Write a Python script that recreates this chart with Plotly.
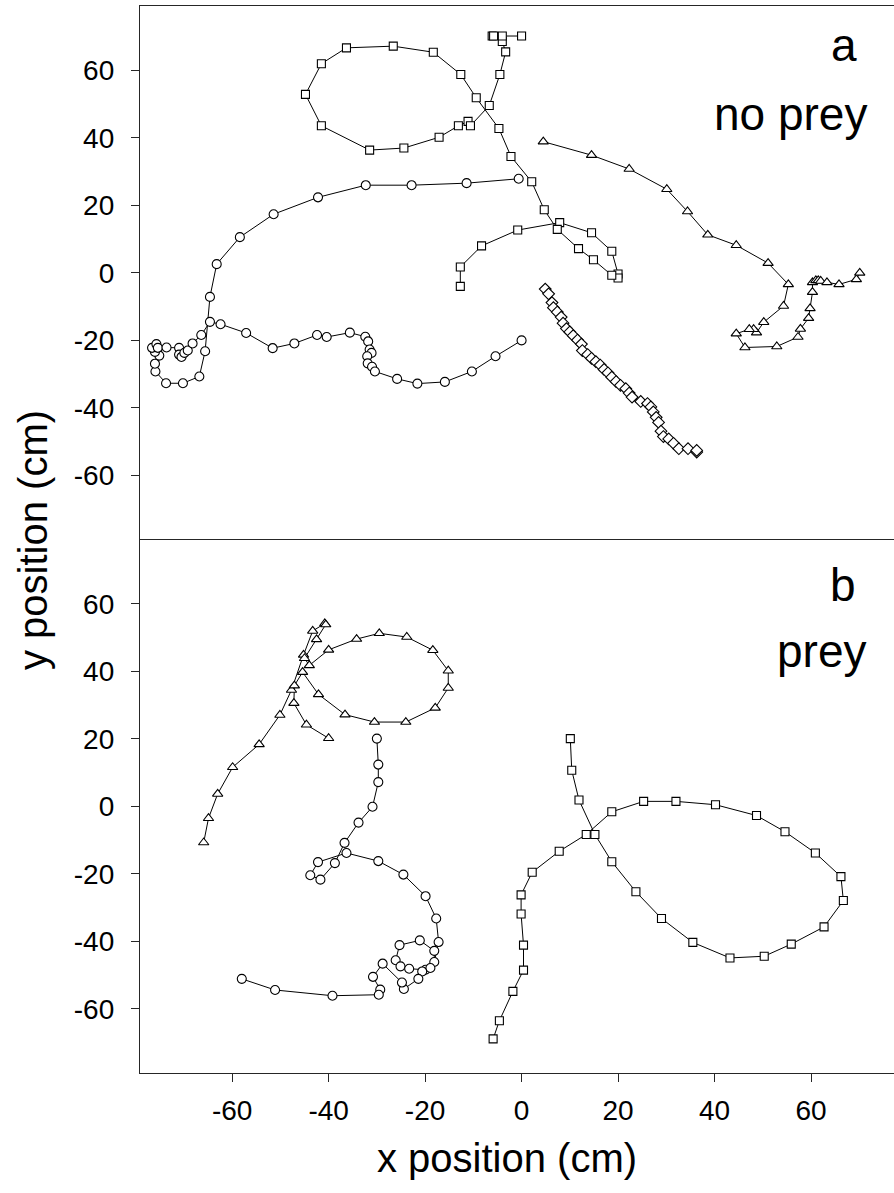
import plotly.graph_objects as go

# ---------------- data (cm) ----------------
# Panel a: no prey
a_sq_x = [-12.7, -12.7, -8.3, -0.8, 7.9, 14.5, 18.7, 20.0, 20.0, 18.7, 14.9, 11.8, 7.4, 4.7, 2.1, -2.2,
          -4.7, -9.4, -12.6, -18.3, -26.6, -36.3, -41.5, -44.8, -41.5, -31.5, -24.4, -17.1, -13.1,
          -11.1, -10.6, -6.7, -4.5, -3.3, -4.0, -4.0, -6.1, -5.8, 0.0]
a_sq_y = [-4.0, 1.75, 8.0, 12.7, 14.9, 11.9, 6.4, -0.3, -1.5, -0.7, 3.9, 7.2, 12.9, 18.7, 27.0, 34.5,
          42.8, 51.9, 58.8, 65.4, 67.2, 66.7, 62.0, 52.9, 43.6, 36.4, 37.0, 40.2, 43.6,
          44.9, 43.6, 49.6, 58.8, 65.5, 68.6, 70.2, 70.2, 70.2, 70.2]

a_tri_x = [4.5, 14.5, 22.3, 30.1, 34.4, 38.6, 44.5, 51.1, 55.3, 54.3, 50.2, 48.7, 48.1, 47.2, 44.5,
           46.3, 52.9, 57.3, 57.8, 59.5, 59.8, 60.3, 60.3, 61.0, 61.5, 62.0, 63.3, 65.8, 69.4, 70.1]
a_tri_y = [38.9, 34.9, 30.8, 24.8, 18.2, 11.3, 8.2, 2.9, -3.4, -9.8, -14.6, -17.7, -16.7, -16.7, -18.0,
           -22.1, -21.8, -19.0, -16.6, -13.4, -10.5, -5.7, -2.8, -2.2, -2.2, -2.4, -2.8, -3.4, -1.9, 0.0]

a_dia_x = [4.9, 5.6, 6.3, 6.6, 7.4, 8.2, 8.6, 9.3, 10.0, 10.7, 11.6, 12.4, 12.6, 13.7, 14.5, 15.4,
           16.3, 17.1, 17.9, 18.7, 19.6, 20.5, 21.6, 22.3, 22.9, 24.7, 26.1, 26.8, 27.3, 27.9, 28.4,
           28.9, 29.4, 30.5, 31.5, 32.6, 34.5, 36.3, 36.3]
a_dia_y = [-4.8, -6.2, -8.8, -10.3, -11.6, -13.1, -14.9, -16.5, -17.5, -18.6, -19.9, -21.1, -23.0,
           -24.2, -25.3, -26.3, -27.3, -28.6, -29.6, -30.9, -32.2, -33.3, -34.3, -35.6, -36.8, -38.1,
           -38.7, -39.7, -41.2, -42.8, -44.3, -46.9, -48.5, -49.2, -50.5, -52.1, -52.1, -53.1, -52.6]

a_cir_x = [-0.6, -11.4, -22.8, -32.3, -42.2, -51.4, -58.4, -63.2, -64.6, -65.6, -66.8, -70.2, -73.7,
           -75.9, -76.0, -75.1, -76.0, -76.6, -75.7, -75.4, -73.6, -71.0, -71.0, -70.5, -69.9, -69.2,
           -68.2, -66.4, -64.6, -62.4, -57.1, -51.6, -47.1, -42.4, -40.4, -35.6, -32.4, -31.8, -31.5,
           -31.1, -32.0, -31.9, -31.0, -30.4, -25.8, -21.6, -15.9, -10.3, -5.4, 0.0]
a_cir_y = [27.9, 26.6, 26.0, 26.0, 22.4, 17.4, 10.6, 2.6, -7.1, -23.2, -30.7, -32.7, -32.7,
           -29.2, -26.9, -24.5, -23.4, -22.2, -21.1, -22.2, -22.1, -22.2, -24.2, -24.9, -23.7, -23.0,
           -20.9, -18.4, -14.5, -15.2, -17.8, -22.3, -20.9, -18.4, -19.0, -17.7, -18.9, -20.3, -22.7,
           -23.7, -24.7, -26.8, -27.8, -29.2, -31.4, -32.8, -32.3, -29.2, -24.7, -20.0]

# Panel b: prey
b_tri_x = [-65.9, -64.9, -63.0, -59.9, -54.4, -50.1, -47.7, -45.2, -43.3, -40.8, -40.6, -42.5, -45.0,
           -44.0, -40.0, -34.2, -29.5, -23.8, -18.4, -15.2, -15.2, -17.9, -24.0, -30.5, -36.6, -42.1,
           -45.4, -47.1, -47.2, -44.6, -40.0]
b_tri_y = [-10.7, -3.5, 3.7, 11.6, 18.4, 27.1, 34.5, 44.9, 52.0, 54.2, 53.9, 49.5, 43.9,
           41.8, 46.4, 49.6, 51.3, 50.2, 46.3, 40.2, 35.1, 29.2, 25.0, 25.0, 27.2, 33.2,
           39.8, 35.8, 30.6, 24.2, 20.2]

b_cir_x = [-30.0, -29.7, -29.7, -30.9, -33.8, -36.7, -38.7, -41.7, -43.8, -42.2, -36.3, -29.7, -24.5,
           -19.9, -17.7, -17.2, -18.1, -18.1, -21.1, -25.3, -26.1, -25.1, -23.3, -19.9, -18.9, -20.6,
           -21.4, -24.4, -24.8, -28.8, -30.8, -29.3, -29.6, -39.2, -51.1, -58.0]
b_cir_y = [20.1, 12.4, 7.2, -0.1, -4.8, -10.8, -16.8, -21.7, -20.4, -16.5, -13.8, -16.2, -20.2,
           -26.6, -33.2, -40.2, -46.1, -42.8, -39.7, -41.1, -45.6, -47.4, -48.1, -48.4, -47.9, -48.9,
           -51.1, -54.1, -52.2, -46.6, -50.5, -54.3, -55.8, -56.1, -54.4, -51.1]

b_sq_x = [10.1, 10.4, 11.9, 15.2, 18.7, 23.7, 29.0, 35.5, 43.2, 50.3, 55.9, 62.7, 66.7, 66.2, 60.9,
          54.6, 48.7, 40.2, 32.0, 25.3, 18.7, 13.4, 7.8, 2.2, -0.1, -0.1, 0.4, 0.4, -1.8, -4.6, -5.9]
b_sq_y = [20.1, 10.7, 1.9, -8.3, -16.4, -25.3, -33.2, -40.3, -44.9, -44.4, -40.8, -35.7, -27.9, -20.8,
          -13.8, -7.5, -2.7, 0.5, 1.5, 1.5, -1.6, -8.3, -13.3, -19.5, -26.2, -31.9, -41.1, -48.5,
          -54.8, -63.5, -68.9]

x_ticks = [-60, -40, -20, 0, 20, 40, 60]
y_ticks = [-60, -40, -20, 0, 20, 40, 60]

# ---------------- figure ----------------
FONT = "Liberation Sans, Arial, sans-serif"
fig = go.Figure()


def track(x, y, symbol, xa, ya, size=9):
    fig.add_trace(go.Scatter(
        x=x, y=y, mode="lines+markers", xaxis=xa, yaxis=ya,
        line=dict(color="black", width=1),
        marker=dict(symbol=symbol, size=size, color="white",
                    line=dict(color="black", width=1.1)),
        showlegend=False, hoverinfo="skip"))


track(a_cir_x, a_cir_y, "circle", "x", "y")
track(a_sq_x, a_sq_y, "square", "x", "y", 8)
track(a_tri_x, a_tri_y, "triangle-up", "x", "y")
track(a_dia_x, a_dia_y, "diamond", "x", "y")

track(b_tri_x, b_tri_y, "triangle-up", "x2", "y2")
track(b_cir_x, b_cir_y, "circle", "x2", "y2")
track(b_sq_x, b_sq_y, "square", "x2", "y2", 8)

AX = "#262626"
xr = [-79.1, 77.2]
yr = [-79.0, 79.1]
split = 0.5
TICKFONT = dict(family=FONT, size=28, color="black")

common_x = dict(range=xr, showgrid=False, zeroline=False, showline=True, linecolor=AX,
                linewidth=1.3, fixedrange=True)
common_y = dict(range=yr, showgrid=False, zeroline=False, showline=True, linecolor=AX,
                linewidth=1.3, mirror=False, ticks="outside", ticklen=8, tickwidth=1.3,
                tickcolor=AX, tickvals=y_ticks, ticktext=[str(v) for v in y_ticks],
                tickfont=TICKFONT, ticklabelstandoff=11)

fig.update_layout(
    width=894, height=1193,
    margin=dict(l=140, r=0, t=6, b=120),
    paper_bgcolor="white", plot_bgcolor="white",
    xaxis=dict(domain=[0, 1], anchor="y", side="top", mirror=False,
               showticklabels=False, ticks="", **common_x),
    yaxis=dict(domain=[split, 1], anchor="x", **common_y),
    xaxis2=dict(domain=[0, 1], anchor="y2", matches="x", mirror=True, ticks="outside",
                ticklen=8, tickwidth=1.3, tickcolor=AX, tickvals=x_ticks,
                ticktext=[str(v) for v in x_ticks], tickfont=TICKFONT,
                ticklabelstandoff=4, **common_x),
    yaxis2=dict(domain=[0, split], anchor="x2", **common_y),
)


def px_x(px):
    return (px - 140) / 754.0


def px_y(py):
    return (1073 - py) / 1067.0


ann = [
    dict(text="a", x=px_x(859), y=px_y(45), xanchor="right", yanchor="middle", size=46),
    dict(text="no prey", x=px_x(869), y=px_y(114), xanchor="right", yanchor="middle", size=46),
    dict(text="b", x=px_x(858), y=px_y(585), xanchor="right", yanchor="middle", size=46),
    dict(text="prey", x=px_x(868), y=px_y(651), xanchor="right", yanchor="middle", size=46),
    dict(text="x position (cm)", x=px_x(507), y=px_y(1158), xanchor="center", yanchor="middle", size=40),
    dict(text="y position (cm)", x=px_x(33), y=px_y(540), xanchor="center", yanchor="middle",
         size=40, textangle=-90),
]
for a in ann:
    fig.add_annotation(text=a["text"], x=a["x"], y=a["y"], xref="paper", yref="paper",
                       xanchor=a["xanchor"], yanchor=a["yanchor"], showarrow=False,
                       textangle=a.get("textangle", 0),
                       font=dict(family=FONT, size=a["size"], color="black"))

fig.write_html("out.html")
